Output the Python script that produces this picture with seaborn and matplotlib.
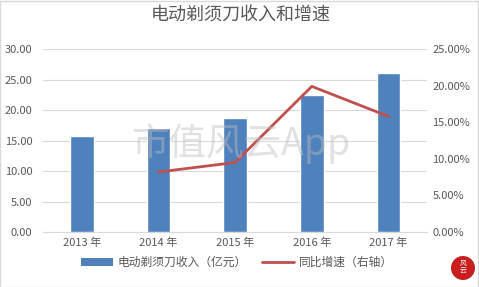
import matplotlib
matplotlib.use("Agg")
import matplotlib.pyplot as plt
import seaborn as sns
import pandas as pd
from matplotlib.patches import Patch, Rectangle, Ellipse
from matplotlib.lines import Line2D

years = ["2013 年", "2014 年", "2015 年", "2016 年", "2017 年"]
revenue = [15.75, 17.05, 18.70, 22.50, 26.10]
growth_years = ["2014 年", "2015 年", "2016 年", "2017 年"]
growth = [8.2, 9.5, 19.9, 15.8]
left_ticks = [0, 5, 10, 15, 20, 25, 30]
right_ticks = [0, 5, 10, 15, 20, 25]

BLUE = "#4F81BD"
RED = "#C0504D"
GRID = "#D9D9D9"
TXT = "#595959"

sns.set_style("white")
plt.rcParams["font.family"] = ["Noto Sans CJK SC", "DejaVu Sans"]

df = pd.DataFrame({"year": years, "revenue": revenue})
gdf = pd.DataFrame({"pos": [years.index(y) for y in growth_years], "growth": growth})

fig = plt.figure(figsize=(4.79, 2.87), dpi=100)
ax = fig.add_axes([0.0906, 0.1916, 0.8004, 0.6374])

sns.barplot(data=df, x="year", y="revenue", color=BLUE, width=0.31,
            saturation=1, ax=ax, zorder=3)
ax.set_xlim(-0.5, len(years) - 0.5)
ax.set_ylim(0, 30)
ax.set_yticks(left_ticks)
ax.set_yticklabels([f"{v:.2f}" for v in left_ticks])
ax.yaxis.grid(True, color=GRID, linewidth=0.8, zorder=0)
ax.set_xlabel("")
ax.set_ylabel("")
for s in ["top", "left", "right"]:
    ax.spines[s].set_visible(False)
ax.spines["bottom"].set_color(GRID)
ax.tick_params(axis="both", length=0, labelsize=8, colors=TXT, pad=4)
ax.tick_params(axis="y", pad=8)

ax2 = ax.twinx()
sns.lineplot(data=gdf, x="pos", y="growth", color=RED, linewidth=2, ax=ax2, zorder=4)
ax2.set_ylim(0, 25)
ax2.set_yticks(right_ticks)
ax2.set_yticklabels([f"{v:.2f}%" for v in right_ticks])
ax2.set_ylabel("")
ax2.set_xlabel("")
for s in ["top", "left", "right", "bottom"]:
    ax2.spines[s].set_visible(False)
ax2.tick_params(axis="y", length=0, labelsize=8, colors=TXT, pad=4)

fig.text(0.503, 0.945, "电动剃须刀收入和增速", ha="center", va="center",
         fontsize=13, color=TXT)

# watermark
fig.text(0.503, 0.5, "市值风云App", ha="center", va="center", fontsize=27,
         color="#bdbdbd", alpha=0.45, zorder=10)

handles = [Patch(facecolor=BLUE, edgecolor="none"),
           Line2D([0], [0], color=RED, linewidth=2)]
labels = ["电动剃须刀收入（亿元）", "同比增速（右轴）"]
fig.legend(handles, labels, loc="center", bbox_to_anchor=(0.494, 0.085), ncol=2,
           frameon=False, fontsize=8.5, labelcolor=TXT, handlelength=2.7,
           handleheight=0.6, handletextpad=0.4, columnspacing=1.3)

fig.patches.append(Rectangle((0.001, 0.001), 0.997, 0.997, transform=fig.transFigure,
                             fill=False, edgecolor=GRID, linewidth=1))
fig.patches.append(Ellipse((463 / 479, 1 - 268 / 287), 24 / 479, 24 / 287,
                           transform=fig.transFigure, facecolor="#C81E1E",
                           edgecolor="none"))
fig.text(463 / 479, 1 - 268 / 287, "风\n云", ha="center", va="center", fontsize=5,
         color="white", linespacing=0.9)

fig.savefig("out.png", dpi=100)
